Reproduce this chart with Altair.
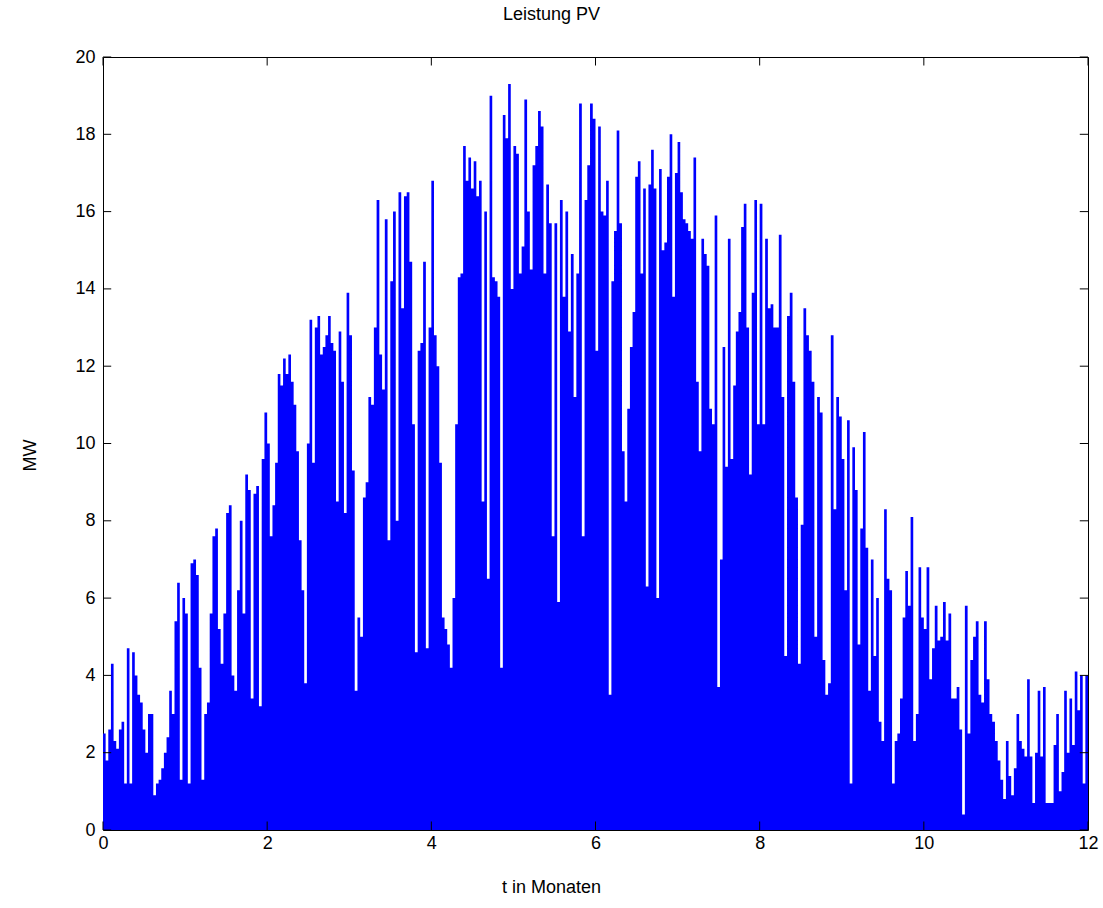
import altair as alt
import pandas as pd

# Daily peak PV output (MW), one list per month
m00 = [2.5, 1.8, 2.6, 4.3, 2.3, 2.1, 2.6, 2.8, 1.2, 4.7, 1.2, 4.6, 4.0, 3.5, 3.3, 2.6,
       2.0, 3.0, 3.0, 0.9, 1.2, 1.3, 1.6, 2.0, 2.4, 3.6, 3.0, 5.4, 6.4, 1.3, 6.0]
m01 = [5.6, 1.2, 6.9, 7.0, 6.6, 4.2, 1.3, 3.0, 3.3, 5.6, 7.6, 7.8, 5.2, 4.3, 5.6, 8.2,
       8.4, 4.0, 3.6, 6.2, 8.0, 5.6, 9.2, 8.8, 3.4, 8.7, 8.9, 3.2, 9.6, 10.8]
m02 = [10.0, 7.6, 8.4, 9.5, 11.8, 11.5, 12.2, 11.8, 12.3, 11.6, 11.0, 9.8, 7.5, 6.2, 3.8,
       10.0, 13.2, 9.5, 13.0, 13.3, 12.3, 12.5, 12.8, 13.3, 12.6, 12.4, 8.5, 12.9, 11.6, 8.2, 13.9]
m03 = [12.8, 9.3, 3.6, 5.5, 5.0, 8.6, 9.0, 11.2, 11.0, 13.0, 16.3, 12.3, 11.4, 15.8, 7.5,
       14.2, 16.0, 8.0, 16.5, 13.5, 16.4, 16.5, 14.7, 10.5, 4.6, 12.4, 12.6, 14.7, 4.7, 13.0]
m04 = [16.8, 12.8, 12.0, 9.5, 5.5, 5.2, 4.8, 4.2, 6.0, 10.5, 14.3, 14.4, 17.7, 16.8, 17.4,
       16.6, 17.3, 16.4, 16.8, 8.5, 16.0, 6.5, 19.0, 14.3, 14.2, 13.8, 4.2, 18.5, 17.9, 19.3, 14.0]
m05 = [17.7, 17.5, 14.4, 15.1, 18.9, 16.0, 14.5, 17.2, 17.7, 18.6, 18.2, 14.4, 16.7, 15.7,
       7.6, 15.7, 5.9, 16.3, 13.8, 16.0, 12.9, 14.9, 11.2, 14.4, 18.8, 7.6, 16.3, 17.2, 18.8, 18.4]
m06 = [12.4, 18.2, 16.0, 15.9, 16.8, 3.5, 14.2, 15.5, 18.1, 15.7, 9.8, 8.5, 10.9, 12.5, 13.4,
       16.9, 17.3, 14.4, 16.6, 6.3, 16.7, 17.6, 16.6, 6.0, 17.1, 15.0, 15.2, 16.9, 18.0, 13.8, 17.0]
m07 = [17.8, 16.5, 15.8, 15.7, 15.5, 15.3, 17.4, 11.6, 9.8, 15.3, 14.9, 14.6, 10.9, 10.5, 15.9,
       3.7, 7.0, 12.5, 9.4, 15.3, 9.6, 11.5, 12.9, 13.4, 15.6, 16.2, 13.0, 9.2, 13.9, 16.3, 10.5]
m08 = [16.2, 10.5, 15.3, 13.5, 13.6, 13.0, 13.0, 15.4, 11.2, 4.5, 13.3, 13.9, 11.6, 8.6, 4.3,
       7.9, 13.5, 12.8, 12.4, 11.6, 5.0, 11.2, 10.8, 4.4, 3.5, 3.8, 12.8, 8.3, 11.2, 10.7]
m09 = [9.6, 6.2, 10.6, 1.2, 9.9, 8.8, 4.8, 7.8, 10.3, 7.3, 3.6, 7.0, 4.5, 6.0, 2.8, 2.3,
       8.3, 6.5, 6.2, 1.2, 2.3, 2.5, 3.4, 5.5, 6.7, 5.8, 8.1, 2.3, 3.0, 6.8, 5.5]
m10 = [5.2, 6.8, 3.9, 4.7, 5.8, 4.9, 5.0, 5.9, 4.9, 5.6, 3.4, 3.4, 3.7, 2.6, 0.4, 5.8, 2.5,
       4.4, 5.0, 5.4, 3.5, 3.3, 5.4, 3.9, 3.0, 2.8, 2.3, 1.8, 1.3, 0.8]
m11 = [2.3, 1.4, 0.9, 1.6, 3.0, 2.3, 2.1, 1.9, 3.9, 1.9, 0.7, 2.0, 3.6, 1.9, 3.7, 0.7, 0.7,
       0.7, 2.2, 3.0, 1.0, 1.5, 3.6, 2.0, 3.4, 2.2, 4.1, 3.1, 4.0, 1.2, 4.0]

months = [m00, m01, m02, m03, m04, m05, m06, m07, m08, m09, m10, m11]

x_ticks = [0, 2, 4, 6, 8, 10, 12]
y_ticks = [0, 2, 4, 6, 8, 10, 12, 14, 16, 18, 20]

rows = []
for m, vals in enumerate(months):
    n = len(vals)
    for j, v in enumerate(vals):
        rows.append({"a": m + j / n, "v": v})
rows.append({"a": 12.0, "v": months[-1][-1]})
df = pd.DataFrame(rows)

FONT = "Liberation Sans"
xs = alt.Scale(domain=[0, 12], nice=False, zero=False)
ys = alt.Scale(domain=[0, 20], nice=False)
xaxis = alt.Axis(values=x_ticks, title="t in Monaten", grid=False, ticks=False, domain=False,
                 labelFont=FONT, labelFontSize=18, labelColor="#000", labelPadding=4,
                 titleFont=FONT, titleFontSize=18, titleFontWeight="normal", titleColor="#000",
                 titleX=448, titleY=62, titleAlign="center", titleBaseline="alphabetic",
                 labelFlush=False)
yaxis = alt.Axis(values=y_ticks, title="MW", grid=False, ticks=False, domain=False,
                 labelFont=FONT, labelFontSize=18, labelColor="#000", labelPadding=8,
                 titleFont=FONT, titleFontSize=18, titleFontWeight="normal", titleColor="#000",
                 titleX=-64, titleY=398, titleAngle=-90, titleAlign="center",
                 titleBaseline="bottom", labelFlush=False)

area = alt.Chart(df).mark_area(color="#0000ff", interpolate="step-after", opacity=1).encode(
    x=alt.X("a:Q", scale=xs, axis=xaxis),
    y=alt.Y("v:Q", scale=ys, axis=yaxis),
)

tx = pd.DataFrame({"t": x_ticks, "lo": 0.0, "hi": 0.22, "top_lo": 19.78, "top_hi": 20.0})
ty = pd.DataFrame({"t": y_ticks, "lo": 0.0, "hi": 0.1, "r_lo": 11.9, "r_hi": 12.0})

tick_style = dict(color="#000", strokeWidth=1)
bt = alt.Chart(tx).mark_rule(**tick_style).encode(
    x=alt.X("t:Q", scale=xs, axis=xaxis), y=alt.Y("lo:Q", scale=ys, axis=yaxis), y2="hi:Q")
tt = alt.Chart(tx).mark_rule(**tick_style).encode(
    x=alt.X("t:Q", scale=xs, axis=xaxis), y=alt.Y("top_lo:Q", scale=ys, axis=yaxis), y2="top_hi:Q")
lt = alt.Chart(ty).mark_rule(**tick_style).encode(
    y=alt.Y("t:Q", scale=ys, axis=yaxis), x=alt.X("lo:Q", scale=xs, axis=xaxis), x2="hi:Q")
rt = alt.Chart(ty).mark_rule(**tick_style).encode(
    y=alt.Y("t:Q", scale=ys, axis=yaxis), x=alt.X("r_lo:Q", scale=xs, axis=xaxis), x2="r_hi:Q")

chart = alt.layer(area, bt, tt, lt, rt).properties(
    width=985, height=773,
    title=alt.TitleParams("Leistung PV", font=FONT, fontSize=18, fontWeight="normal",
                          color="#000", anchor="middle", offset=24, dx=-44),
    autosize=alt.AutoSizeParams(type="none"),
    padding={"left": 103, "top": 57, "right": 15, "bottom": 78},
    background="white",
).configure_view(stroke="#000", strokeWidth=1)

chart.save("out.html", embed_options={"renderer": "svg", "actions": False})
